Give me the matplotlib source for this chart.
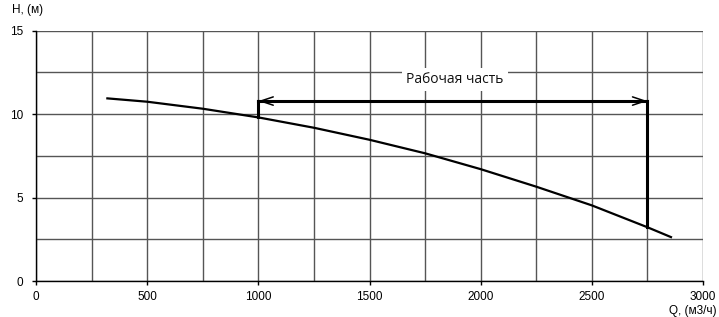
import matplotlib
matplotlib.use("Agg")
import matplotlib.pyplot as plt

# Pump curve data (Q in m3/h, H in m)
q_values = [321, 500, 750, 1000, 1250, 1500, 1750, 2000, 2250, 2500, 2750, 2856]
h_values = [10.94, 10.74, 10.32, 9.80, 9.18, 8.46, 7.65, 6.70, 5.65, 4.53, 3.22, 2.63]

# Working range
work_q = [1000, 2750]
work_h_arrow = 10.78
work_h_bottom = [9.80, 3.22]
work_label = "Рабочая часть"

x_ticks = [0, 500, 1000, 1500, 2000, 2500, 3000]
y_ticks = [0, 5, 10, 15]
x_grid = [0, 250, 500, 750, 1000, 1250, 1500, 1750, 2000, 2250, 2500, 2750, 3000]
y_grid = [0, 2.5, 5, 7.5, 10, 12.5, 15]

plt.rcParams['font.family'] = ['Liberation Sans', 'DejaVu Sans']

fig = plt.figure(figsize=(7.19, 3.17), dpi=100)
ax = fig.add_axes([36/719, 1-281/317, (703-36)/719, (281-30.6)/317])
ax.set_xlim(0, 3000)
ax.set_ylim(0, 15)

for xv in x_grid:
    ax.axvline(xv, color='#555555', lw=1.0, zorder=1)
for yv in y_grid:
    ax.axhline(yv, color='#555555', lw=1.0, zorder=1)

ax.plot(q_values, h_values, color='black', lw=1.6, zorder=3, solid_joinstyle='round')

# Working range markers
ax.plot([work_q[0], work_q[0]], [work_h_arrow, work_h_bottom[0]], color='black', lw=2.2, zorder=3)
ax.plot([work_q[1], work_q[1]], [work_h_arrow, work_h_bottom[1]], color='black', lw=2.2, zorder=3)
ax.plot(work_q, [work_h_arrow, work_h_arrow], color='black', lw=2.2, zorder=3)
ax.annotate('', xy=(work_q[0], work_h_arrow), xytext=(work_q[1], work_h_arrow),
            arrowprops=dict(arrowstyle='<->,head_length=0.9,head_width=0.3',
                            color='black', lw=1.1, shrinkA=0, shrinkB=0), zorder=4)
ax.text(1884, 12.08, work_label, ha='center', va='center', fontsize=10,
        family=['Open Sans', 'DejaVu Sans'], color='#111111',
        bbox=dict(facecolor='white', edgecolor='none', pad=3), zorder=5)

ax.set_xticks(x_ticks)
ax.set_yticks(y_ticks)
ax.tick_params(axis='x', direction='out', length=3, width=1, labelsize=8.5, colors='black', pad=4)
ax.tick_params(axis='y', direction='out', length=3, width=1, labelsize=8.5, colors='black', pad=6)
for s in ['top', 'right']:
    ax.spines[s].set_visible(False)
for s in ['left', 'bottom']:
    ax.spines[s].set_color('black')
    ax.spines[s].set_linewidth(1.0)

fig.text(12/719, 1-10/317, 'H, (м)', fontsize=8.5, ha='left', va='center')
fig.text(717/719, 1-311/317, 'Q, (м3/ч)', fontsize=8.5, ha='right', va='center')

fig.savefig('out.png', dpi=100)
